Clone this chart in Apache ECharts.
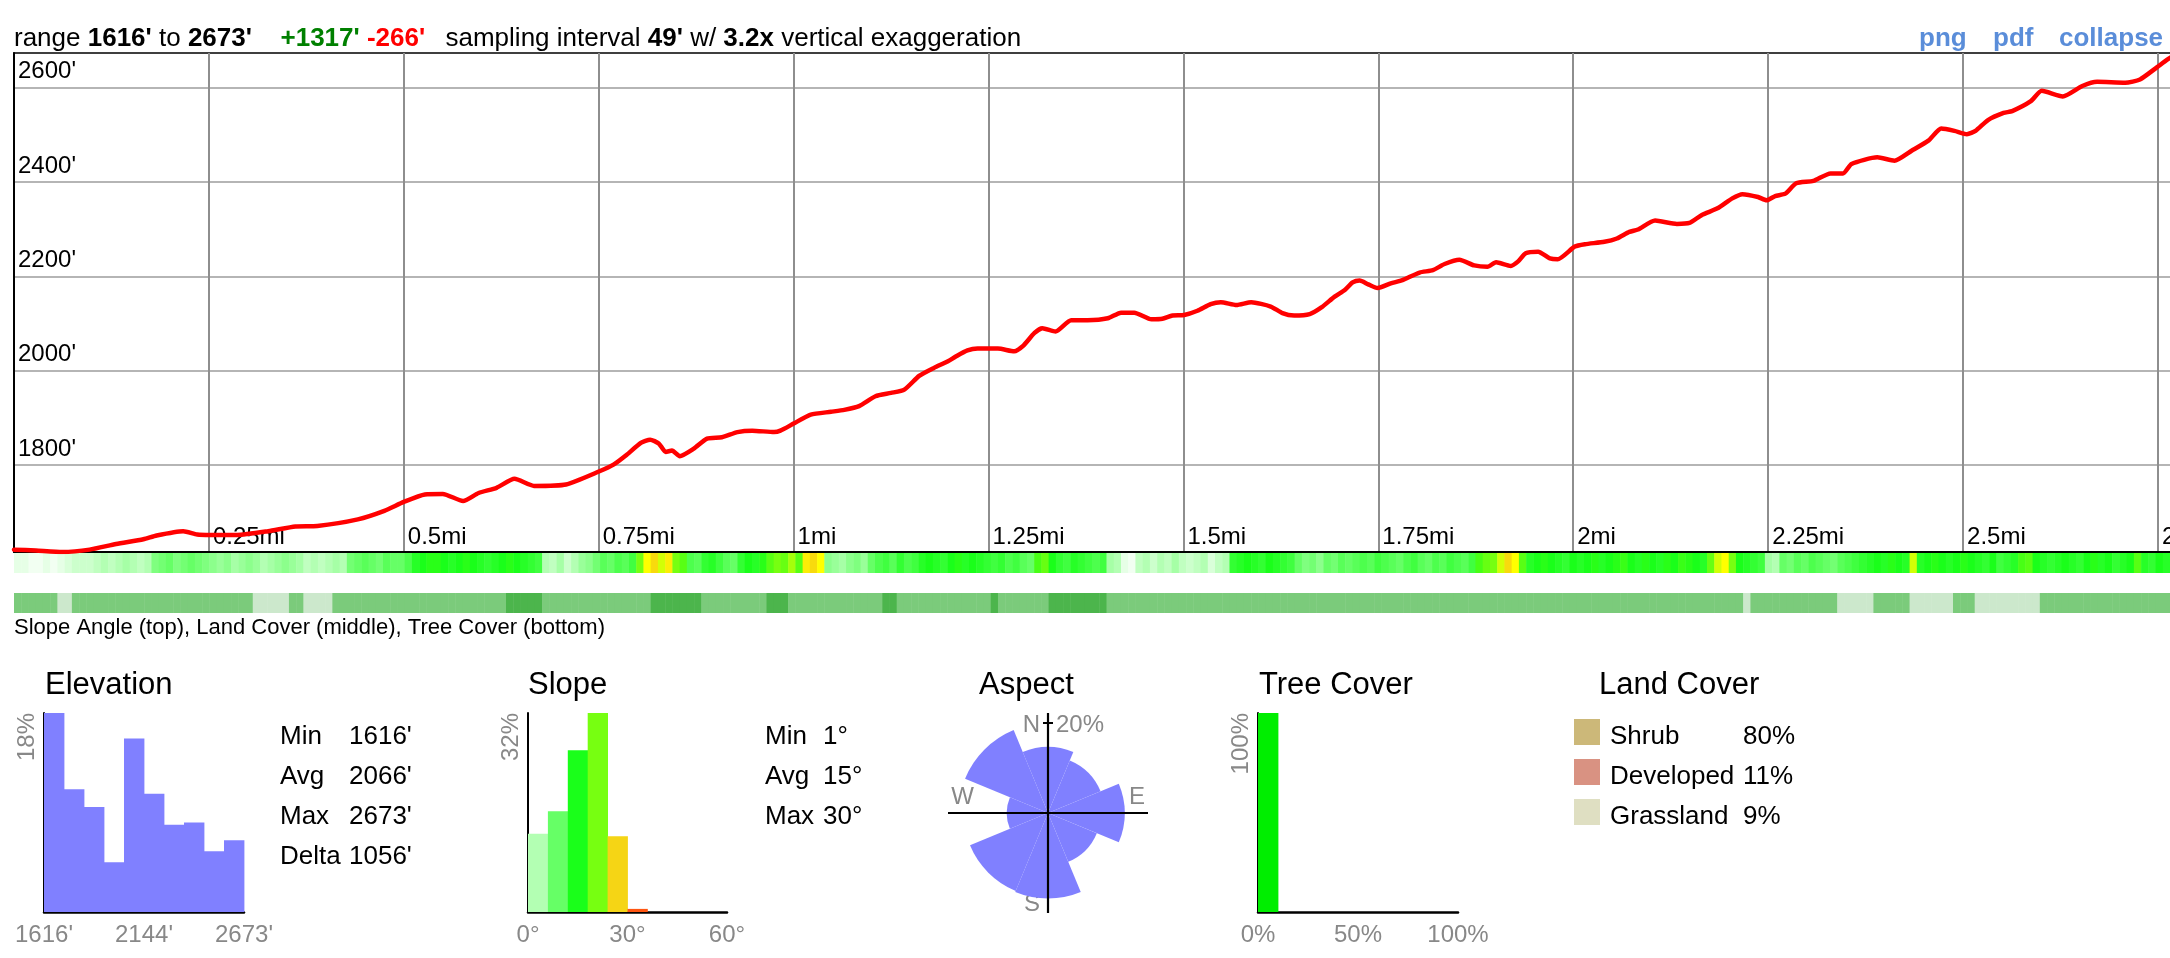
<!DOCTYPE html>
<html><head><meta charset="utf-8">
<script src="https://cdn.jsdelivr.net/npm/echarts@6/dist/echarts.min.js"></script>
<style>html,body{margin:0;padding:0;background:#fff;overflow:hidden}#c{width:2170px;height:958px}</style>
</head><body><div id="c"></div>
<script>
// ---------------- DATA ----------------
const rangeMin = 1616, rangeMax = 2673, gainFt = 1317, lossFt = 266, samplingFt = 49, exaggeration = 3.2;
const headerLinks = ['png', 'pdf', 'collapse'];
const caption = 'Slope Angle (top), Land Cover (middle), Tree Cover (bottom)';

const distMi = [0.000,0.028,0.062,0.097,0.131,0.166,0.183,0.217,0.235,0.252,0.286,0.326,0.361,0.389,0.441,0.475,0.500,0.527,0.550,0.576,0.596,0.619,0.642,0.667,0.708,0.751,0.769,0.786,0.804,0.816,0.827,0.836,0.844,0.854,0.872,0.889,0.908,0.928,0.947,0.975,0.983,1.000,1.022,1.048,1.065,1.084,1.105,1.125,1.142,1.161,1.180,1.198,1.208,1.223,1.236,1.262,1.283,1.294,1.309,1.319,1.336,1.356,1.377,1.403,1.420,1.437,1.459,1.473,1.486,1.501,1.518,1.535,1.548,1.568,1.587,1.612,1.627,1.642,1.662,1.677,1.694,1.707,1.717,1.726,1.737,1.749,1.766,1.781,1.803,1.820,1.835,1.854,1.873,1.890,1.901,1.920,1.929,1.939,1.955,1.970,1.980,2.002,2.015,2.040,2.056,2.072,2.083,2.105,2.133,2.149,2.165,2.185,2.204,2.217,2.237,2.248,2.259,2.272,2.286,2.308,2.330,2.346,2.357,2.390,2.412,2.434,2.456,2.472,2.489,2.505,2.516,2.532,2.552,2.563,2.587,2.601,2.628,2.653,2.672,2.708,2.727,2.749,2.767,2.786];
const elevFt = [1621,1619,1616,1621,1633,1643,1651,1660,1653,1652,1652,1660,1670,1671,1685,1703,1722,1738,1739,1724,1741,1752,1771,1756,1759,1787,1801,1822,1847,1854,1846,1828,1831,1819,1835,1856,1859,1870,1873,1870,1873,1888,1907,1913,1917,1925,1946,1953,1960,1989,2006,2020,2030,2043,2047,2047,2041,2052,2080,2090,2083,2107,2107,2111,2123,2123,2109,2110,2117,2118,2127,2141,2145,2139,2145,2136,2122,2117,2120,2134,2157,2171,2187,2191,2183,2175,2185,2192,2208,2213,2226,2235,2223,2220,2230,2222,2231,2249,2252,2238,2236,2263,2268,2273,2280,2294,2299,2318,2311,2313,2330,2344,2365,2374,2368,2361,2370,2375,2397,2402,2418,2418,2438,2452,2445,2466,2488,2513,2508,2501,2508,2531,2546,2550,2571,2593,2581,2603,2612,2610,2617,2643,2664,2673];
const elevTicks = [1800, 2000, 2200, 2400, 2600];
const distTickStep = 0.25;
const distMaxMi = 2.786;

// slope angle (deg) per sample
const slopeStrip = [2,2,1,1,2,1,2,3,4,4,4,5,6,5,6,7,6,5,6,10,11,12,10,11,12,11,10,9,8,9,7,8,9,8,6,7,8,9,8,7,5,6,5,6,7,6,11,12,13,12,11,13,12,12,14,17,18,19,19,18,17,18,19,18,17,16,17,18,19,18,17,16,15,6,5,7,4,6,8,9,11,13,12,14,13,15,24,27,29,26,28,24,22,14,13,16,17,15,13,12,16,18,17,19,22,24,23,25,22,28,29,27,9,8,7,9,10,8,12,14,15,13,16,14,15,17,18,17,16,18,19,17,18,17,16,15,16,14,15,13,12,21,23,18,16,15,17,16,15,14,15,
7,6,2,1,5,6,4,6,5,7,5,4,5,6,3,5,6,16,17,18,17,16,18,17,16,15,12,10,11,9,12,11,13,12,13,14,13,15,14,13,12,14,15,13,12,14,13,15,14,13,15,21,23,24,26,29,27,22,17,18,19,18,17,16,18,17,18,19,17,18,19,20,18,17,19,18,17,19,18,20,19,18,17,23,26,27,24,18,17,16,15,7,6,12,11,13,12,14,13,12,11,13,14,15,16,17,18,17,19,18,17,26,17,18,19,18,17,18,19,18,17,16,18,15,16,17,21,22,18,17,16,17,18,17,16,18,19,17,18,16,17,18,22,17,16,18,17,16,17,18];
// tree cover (%) per sample
const treeStrip = [5,5,5,5,5,5,0,0,5,5,5,5,5,5,5,5,5,5,5,5,5,5,5,5,5,5,5,5,5,5,5,5,5,0,0,0,0,0,5,5,0,0,0,0,5,5,5,5,5,5,5,5,5,5,5,5,5,5,5,5,5,5,5,5,5,5,5,5,10,10,10,10,10,5,5,5,5,5,5,5,5,5,5,5,5,5,5,5,10,10,10,10,10,10,10,5,5,5,5,5,5,5,5,5,10,10,10,5,5,5,5,5,5,5,5,5,5,5,5,5,10,10,5,5,5,5,5,5,5,5,5,5,5,5,5,10,5,5,5,5,5,5,5,10,10,10,10,10,10,10,10,
5,5,5,5,5,5,5,5,5,5,5,5,5,5,5,5,5,5,5,5,5,5,5,5,5,5,5,5,5,5,5,5,5,5,5,5,5,5,5,5,5,5,5,5,5,5,5,5,5,5,5,5,5,5,5,5,5,5,5,5,5,5,5,5,5,5,5,5,5,5,5,5,5,5,5,5,5,5,5,5,5,5,5,5,5,5,5,5,0,5,5,5,5,5,5,5,5,5,5,5,5,0,0,0,0,0,5,5,5,5,5,0,0,0,0,0,0,5,5,5,0,0,0,0,0,0,0,0,0,5,5,5,5,5,5,5,5,5,5,5,5,5,5,5,5,5,5,5,5,5];

const elevHistPct = [18.0, 11.1, 9.5, 4.5, 15.7, 10.7, 7.9, 8.1, 5.5, 6.5];
const elevStatLabels = ['Min', 'Avg', 'Max', 'Delta'];
const elevStatValues = ["1616'", "2066'", "2673'", "1056'"];

const slopeBinDeg = 6;
const slopeAxisMax = 60;
const slopeHistPct = [12.6, 16.2, 26.0, 32.0, 12.2, 0.5];
const slopeStatLabels = ['Min', 'Avg', 'Max'];
const slopeStatValues = ['1°', '15°', '30°'];

const aspectDirs = ['N', 'NE', 'E', 'SE', 'S', 'SW', 'W', 'NW'];
const aspectPct = [10.8, 8.0, 14.5, 6.9, 18.1, 17.6, 4.2, 19.9];
const aspectRefPct = 20;

const treeBinPct = 10;
const treeHistPct = [100, 0, 0, 0, 0, 0, 0, 0, 0, 0];

const landNames = ['Shrub', 'Developed', 'Grassland'];
const landPct = [80, 11, 9];

// ---------------- STYLES ----------------
const FONT = '"Liberation Sans", Arial, Helvetica, sans-serif';
const slopeHistColors = ['#b3ffb3', '#66ff66', '#1aff1a', '#77ff11', '#f5d515', '#ff5511'];
const landColors = ['#ccb879', '#d99282', '#dfdfc2'];
const slopeRamp = ['#ffffff','#d9ffd9','#b3ffb3','#8cff8c','#66ff66','#40ff40','#1aff1a','#48ff15','#77ff11','#ffff00','#f5c814'];
const treeRamp = ['#cce8cc', '#7bcb7b', '#4cb54c'];
const HIST = '#8080ff';
const GRAY = '#888';
const AC = {cx: 1048, cy: 813, r: 100};

const sampleMi = samplingFt / 5280;
const chart = echarts.init(document.getElementById('c'), null, {renderer: 'canvas', width: 2170, height: 958});

function rectItem(fillFn) {
  return function (params, api) {
    const p0 = api.coord([api.value(0), api.value(2)]);
    const p1 = api.coord([api.value(1), 0]);
    return {type: 'rect', shape: {x: p0[0], y: p0[1], width: p1[0] - p0[0] + 0.4, height: p1[1] - p0[1]},
      style: {fill: fillFn(params, api)}};
  };
}
function stripItem(params, api) {
  const p0 = api.coord([api.value(0), 1]);
  const p1 = api.coord([api.value(1), 0]);
  return {type: 'rect', shape: {x: p0[0], y: p0[1], width: p1[0] - p0[0] + 0.5, height: p1[1] - p0[1]},
    style: {fill: api.visual('color')}};
}
const lbl = (o) => Object.assign({color: GRAY, fontSize: 24, fontFamily: FONT}, o);
const blackLine = {show: true, lineStyle: {color: '#000', width: 2}};
const histY = (gi, max, suffix) => ({
  type: 'value', gridIndex: gi, min: 0, max: max, interval: max,
  axisLine: blackLine, axisTick: {show: false}, splitLine: {show: false},
  axisLabel: lbl({rotate: 90, showMinLabel: false, align: 'right', verticalAlign: 'middle', margin: 17,
    formatter: v => v + suffix})
});
const histX = (gi, min, max, interval, fmt) => ({
  type: 'value', gridIndex: gi, min: min, max: max, interval: interval,
  axisLine: {show: true, lineStyle: {color: '#000', width: 2.5}}, axisTick: {show: false}, splitLine: {show: false},
  axisLabel: lbl({margin: 11, formatter: fmt})
});

const elevBinW = (rangeMax - rangeMin) / elevHistPct.length;

function txt(x, y, text, size, extra) {
  return {type: 'text', x: x, y: y, silent: true,
    style: Object.assign({text: text, fontSize: size, fontFamily: FONT, fill: '#000',
      align: 'left', verticalAlign: 'middle', textAlign: 'left', textVerticalAlign: 'middle'}, extra || {})};
}
const rich26 = {
  n: {fontSize: 26, fontFamily: FONT, fill: '#000'},
  b: {fontSize: 26, fontFamily: FONT, fill: '#000', fontWeight: 'bold'},
  g: {fontSize: 26, fontFamily: FONT, fill: '#008000', fontWeight: 'bold'},
  r: {fontSize: 26, fontFamily: FONT, fill: '#ff0000', fontWeight: 'bold'}
};

const HY = 39;
const graphics = [];
graphics.push(txt(14, HY, `{n|range }{b|${rangeMin}'}{n| to }{b|${rangeMax}'}`, 26, {rich: rich26}));
graphics.push(txt(280.5, HY, `{g|+${gainFt}'} {r|-${lossFt}'}`, 26, {rich: rich26}));
graphics.push(txt(445.5, HY, `{n|sampling interval }{b|${samplingFt}'}{n| w/ }{b|${exaggeration}x}{n| vertical exaggeration}`, 26, {rich: rich26}));
[1919, 1993, 2059].forEach((x, i) => graphics.push(txt(x, HY, headerLinks[i], 26, {fill: '#5a8dd9', fontWeight: 'bold'})));
graphics.push(txt(14, 628, caption, 22));
// titles
[['Elevation', 45], ['Slope', 528], ['Aspect', 979], ['Tree Cover', 1259], ['Land Cover', 1599]].forEach(t =>
  graphics.push(txt(t[1], 685.5, t[0], 31)));
const rowsY = [737, 776.5, 816.5, 856.5];
elevStatLabels.forEach((l, i) => { graphics.push(txt(280, rowsY[i], l, 26)); graphics.push(txt(349, rowsY[i], elevStatValues[i], 26)); });
slopeStatLabels.forEach((l, i) => { graphics.push(txt(765, rowsY[i], l, 26)); graphics.push(txt(823, rowsY[i], slopeStatValues[i], 26)); });
// land cover legend
landNames.forEach((n, i) => {
  graphics.push({type: 'rect', silent: true, shape: {x: 1574, y: 719 + 40 * i, width: 26, height: 26}, style: {fill: landColors[i]}});
  graphics.push(txt(1610, rowsY[i], n, 26));
  graphics.push(txt(1743, rowsY[i], landPct[i] + '%', 26));
});
// aspect cross & labels
graphics.push({type: 'line', silent: true, z: 10, shape: {x1: AC.cx - AC.r, y1: AC.cy, x2: AC.cx + AC.r, y2: AC.cy}, style: {stroke: '#000', lineWidth: 2.2}});
graphics.push({type: 'line', silent: true, z: 10, shape: {x1: AC.cx, y1: AC.cy - AC.r, x2: AC.cx, y2: AC.cy + AC.r}, style: {stroke: '#000', lineWidth: 2.2}});
graphics.push({type: 'line', silent: true, z: 10, shape: {x1: AC.cx - 5, y1: AC.cy - 0.9 * AC.r, x2: AC.cx + 5, y2: AC.cy - 0.9 * AC.r}, style: {stroke: '#000', lineWidth: 2}});
graphics.push(txt(AC.cx - 8, 725.5, 'N', 24, {fill: GRAY, align: 'right', textAlign: 'right'}));
graphics.push(txt(AC.cx + 8, 725.5, aspectRefPct + '%', 24, {fill: GRAY}));
graphics.push(txt(AC.cx - 74, 797.5, 'W', 24, {fill: GRAY, align: 'right', textAlign: 'right'}));
graphics.push(txt(AC.cx + 81, 797.5, 'E', 24, {fill: GRAY}));
graphics.push(txt(AC.cx - 8, 904.5, 'S', 24, {fill: GRAY, align: 'right', textAlign: 'right'}));

const plotW = 2172;
const option = {
  animation: false,
  backgroundColor: '#fff',
  grid: [
    {left: 14, top: 53, width: plotW, height: 499, show: true, borderColor: '#000', borderWidth: 1.5, backgroundColor: 'transparent', outerBoundsMode: 'none', containLabel: false},
    {left: 14, top: 553, width: plotW, height: 20, outerBoundsMode: 'none'},
    {left: 14, top: 593, width: plotW, height: 20, outerBoundsMode: 'none'},
    {left: 44, top: 713, width: 200, height: 199, outerBoundsMode: 'none'},
    {left: 528, top: 713, width: 199, height: 199, outerBoundsMode: 'none'},
    {left: 1258, top: 713, width: 200, height: 199, outerBoundsMode: 'none'}
  ],
  polar: {center: [AC.cx, AC.cy], radius: AC.r},
  angleAxis: {type: 'category', data: aspectDirs, startAngle: 90 + 180 / aspectDirs.length, clockwise: true,
    axisLine: {show: false}, axisTick: {show: false}, axisLabel: {show: false}, splitLine: {show: false}, splitArea: {show: false}},
  radiusAxis: {type: 'value', min: 0, max: Math.sqrt(aspectRefPct) / 0.9,
    axisLine: {show: false}, axisTick: {show: false}, axisLabel: {show: false}, splitLine: {show: false}, splitArea: {show: false}},
  xAxis: [
    {type: 'value', gridIndex: 0, min: 0, max: distMaxMi, interval: distTickStep,
      axisLine: {show: true, onZero: false, lineStyle: {color: '#000', width: 2}}, axisTick: {show: false},
      splitLine: {show: true, lineStyle: {color: '#8e8e8e', width: 2}},
      axisLabel: {inside: true, showMinLabel: false, showMaxLabel: false, align: 'left', verticalAlign: 'bottom', margin: 3,
        padding: [0, 0, 0, 4], color: '#000', fontSize: 24, fontFamily: FONT,
        formatter: v => (v === 0 ? '' : v + 'mi')}},
    {type: 'value', gridIndex: 1, min: 0, max: distMaxMi, show: false},
    {type: 'value', gridIndex: 2, min: 0, max: distMaxMi, show: false},
    histX(3, rangeMin, rangeMax, (rangeMax - rangeMin) / 2, v => Math.floor(v) + "'"),
    histX(4, 0, slopeAxisMax, slopeAxisMax / 2, v => v + '°'),
    histX(5, 0, 100, 50, v => v + '%')
  ],
  yAxis: [
    {type: 'value', gridIndex: 0, min: rangeMin, max: rangeMax,
      axisLine: {show: true, lineStyle: {color: '#000', width: 2}},
      axisTick: {show: false, customValues: elevTicks},
      splitLine: {show: true, lineStyle: {color: '#b5b5b5', width: 2}},
      axisLabel: {customValues: elevTicks, inside: true, align: 'left', verticalAlign: 'bottom', margin: 4,
        padding: [0, 0, 4, 0], color: '#000', fontSize: 24, fontFamily: FONT, formatter: v => v + "'"}},
    {type: 'value', gridIndex: 1, min: 0, max: 1, show: false},
    {type: 'value', gridIndex: 2, min: 0, max: 1, show: false},
    histY(3, Math.max(...elevHistPct), '%'),
    histY(4, Math.max(...slopeHistPct), '%'),
    histY(5, Math.max(...treeHistPct), '%')
  ],
  visualMap: [
    {type: 'continuous', show: false, seriesIndex: 1, dimension: 2, min: 0, max: 30, inRange: {color: slopeRamp}},
    {type: 'continuous', show: false, seriesIndex: 2, dimension: 2, min: 0, max: 10, inRange: {color: treeRamp}}
  ],
  series: [
    {type: 'line', xAxisIndex: 0, yAxisIndex: 0, data: distMi.map((d, i) => [d, elevFt[i]]), showSymbol: false, symbol: 'none',
      silent: true, z: 5, lineStyle: {color: '#ff0000', width: 4.5, cap: 'round', join: 'round'}, smooth: 0.2},
    {type: 'custom', xAxisIndex: 1, yAxisIndex: 1, silent: true,
      data: slopeStrip.map((v, i) => [i * sampleMi, (i + 1) * sampleMi, v]), renderItem: stripItem},
    {type: 'custom', xAxisIndex: 2, yAxisIndex: 2, silent: true,
      data: treeStrip.map((v, i) => [i * sampleMi, (i + 1) * sampleMi, v]), renderItem: stripItem},
    {type: 'custom', xAxisIndex: 3, yAxisIndex: 3, silent: true,
      data: elevHistPct.map((p, i) => [rangeMin + i * elevBinW, rangeMin + (i + 1) * elevBinW, p]),
      renderItem: rectItem(() => HIST)},
    {type: 'custom', xAxisIndex: 4, yAxisIndex: 4, silent: true,
      data: slopeHistPct.map((p, i) => [i * slopeBinDeg, (i + 1) * slopeBinDeg, p]),
      renderItem: rectItem((params) => slopeHistColors[params.dataIndex])},
    {type: 'bar', coordinateSystem: 'polar', silent: true, barCategoryGap: '0%', barGap: '0%',
      data: aspectPct.map(p => Math.sqrt(p)), itemStyle: {color: HIST}},
    {type: 'custom', xAxisIndex: 5, yAxisIndex: 5, silent: true,
      data: treeHistPct.map((p, i) => [i * treeBinPct, (i + 1) * treeBinPct, p]),
      renderItem: rectItem(() => '#00ee00')}
  ],
  graphic: graphics
};
chart.setOption(option);
</script>
</body></html>
